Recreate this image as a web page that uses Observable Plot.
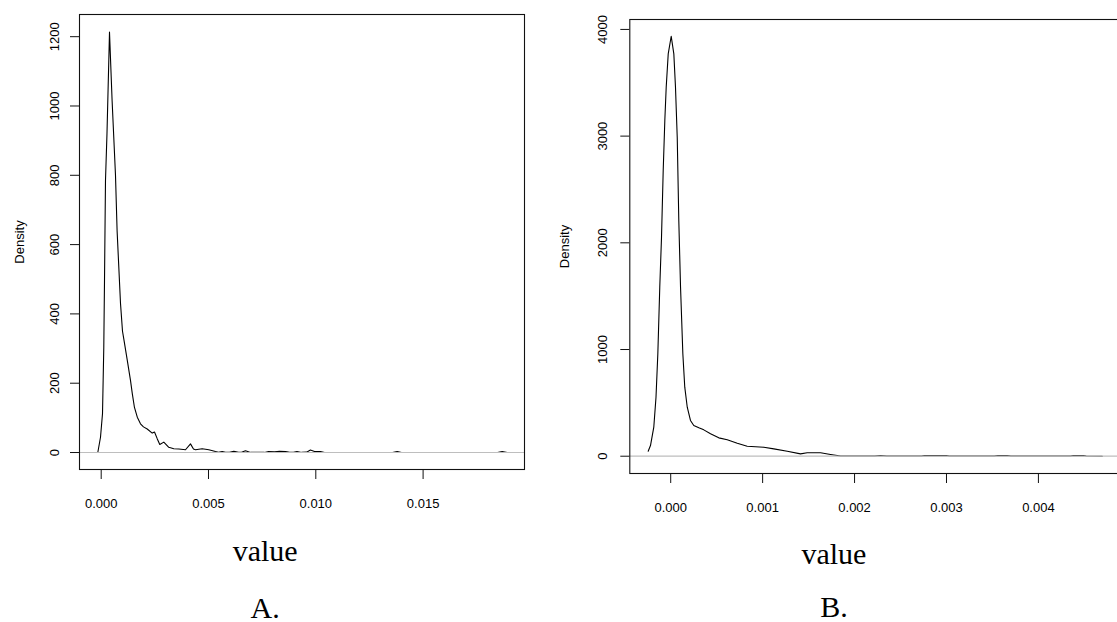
<!DOCTYPE html>
<html>
<head>
<meta charset="utf-8">
<script src="https://cdn.jsdelivr.net/npm/d3@7"></script>
<script src="https://cdn.jsdelivr.net/npm/@observablehq/plot@0.6"></script>
<style>
  html, body { margin: 0; padding: 0; background: #fff; overflow: hidden; }
  #wrap { position: relative; width: 1117px; height: 622px; overflow: hidden; background: #fff; }
  #a, #b { position: absolute; top: 0; }
  #a { left: 0; width: 558px; }
  #b { left: 540px; width: 600px; }
  #a svg, #b svg { max-width: none !important; display: block; }
</style>
</head>
<body>
<div id="wrap"><div id="a"></div><div id="b"></div></div>
<script>
// ---- Panel A data (density estimate) ----
const valueA = [-0.000158, -0.0000326, 0.0000606, 0.000121, 0.000154, 0.0002, 0.00027, 0.000387, 0.000508, 0.000666,
  0.000741, 0.0009, 0.000993, 0.00106, 0.001216, 0.001365, 0.001449, 0.00155, 0.001682, 0.001831,
  0.00197, 0.002144, 0.002377, 0.002484, 0.00261, 0.00273, 0.002917, 0.00315, 0.003383, 0.003616,
  0.003928, 0.004161, 0.0043, 0.004394, 0.004706, 0.005014, 0.005326, 0.005466, 0.005638, 0.005792,
  0.005979, 0.006179, 0.0064, 0.00654, 0.006724, 0.006956, 0.00761, 0.0078, 0.00808, 0.00831,
  0.00859, 0.00878, 0.00896, 0.009124, 0.00933, 0.00957, 0.00975, 0.00994, 0.01022, 0.01041,
  0.0120, 0.013574, 0.013793, 0.013994, 0.0165, 0.018467, 0.018686, 0.018919];
const densityA = [0, 44, 112, 304, 496, 785, 921, 1213, 1016, 800,
  640, 430, 350, 325, 266, 208, 170, 130, 102, 83,
  74, 68, 56, 59, 40, 23, 30, 15, 11, 10,
  8, 25, 10, 8, 11, 8, 3, 1, 3, 0.5,
  0.5, 3.5, 0.5, 0.5, 5, 0.3, 0.3, 3, 2, 3.5,
  3, 0.5, 0.5, 3, 0.3, 1, 7, 3, 2.5, 0.2,
  0.1, 0.2, 3, 0.2, 0.1, 0.2, 3, 0];
const xTicksA = [0, 0.005, 0.010, 0.015];
const yTicksA = [0, 200, 400, 600, 800, 1000, 1200];

// ---- Panel B data (density estimate) ----
const valueB = [-0.000245, -0.00022, -0.000184, -0.00016, -0.00014, -0.000119, -0.0001, -0.0000816, -0.000064, -0.000049,
  -0.000027, 0.0000054, 0.000034, 0.000052, 0.000071, 0.000088, 0.000107, 0.000132, 0.000153, 0.00018,
  0.000215, 0.000251, 0.000306, 0.00036, 0.000433, 0.000523, 0.000615, 0.000724, 0.000832, 0.001013,
  0.001122, 0.001268, 0.001412, 0.001485, 0.00163, 0.001739, 0.001848, 0.00222, 0.002283, 0.00235,
  0.00273, 0.00276, 0.003, 0.00303, 0.00352, 0.00356, 0.00366, 0.0037, 0.00435, 0.00438,
  0.00449, 0.00452, 0.004695];
const densityB = [47, 100, 272, 553, 960, 1584, 2052, 2678, 3146, 3458,
  3771, 3936, 3771, 3458, 2990, 2209, 1584, 960, 647, 459,
  335, 288, 266, 247, 210, 172, 154, 122, 94, 84,
  69, 47, 22, 32, 32, 16, 2, 2, 6, 2,
  2, 6, 6, 2, 2, 6, 6, 2, 2, 6,
  6, 2, 0];
const xTicksB = [0, 0.001, 0.002, 0.003, 0.004];
const yTicksB = [0, 1000, 2000, 3000, 4000];

const yLabel = "Density";
const xLabel = "value";
const captionA = "A.";
const captionB = "B.";

const rowsA = valueA.map((v, i) => ({value: v, density: densityA[i]}));
const rowsB = valueB.map((v, i) => ({value: v, density: densityB[i]}));
const fmt3 = d3.format(".3f");
const sans = "'Liberation Sans', Arial, Helvetica, sans-serif";
const serif = "'Liberation Serif', 'Times New Roman', serif";

function panel(o) {
  return Plot.plot({
    width: o.width, height: 622,
    marginLeft: o.ml, marginRight: o.mr, marginTop: o.mt, marginBottom: o.mb,
    x: {domain: o.xDomain, axis: null},
    y: {domain: o.yDomain, axis: null},
    style: {fontFamily: sans, fontSize: "13px", color: "#000", background: "transparent", overflow: "visible", maxWidth: "none"},
    marks: [
      Plot.line(o.rows, {x: "value", y: "density", stroke: "#000", strokeWidth: 1.1}),
      Plot.ruleY([0], {stroke: "#bebebe", strokeWidth: 1.2}),
      Plot.frame({stroke: "#111", strokeWidth: 1.1}),
      Plot.axisY({ticks: o.yTicks, tickSize: 9, tickFormat: () => "", label: null, stroke: "#111"}),
      Plot.axisX({ticks: o.xTicks, tickSize: 10, tickFormat: () => "", label: null, stroke: "#111"}),
      Plot.text(o.yTicks, {y: d => d, frameAnchor: "left", dx: o.yLabDx, rotate: -90, text: d => String(d),
        textAnchor: "middle", lineAnchor: "middle", fontSize: 13, fill: "#000"}),
      Plot.text(o.xTicks, {x: d => d, frameAnchor: "bottom", dy: 34, text: d => fmt3(d),
        textAnchor: "middle", lineAnchor: "middle", fontSize: 13, fill: "#000"}),
      Plot.text([yLabel], {frameAnchor: "left", dx: o.densDx, rotate: -90, text: d => d,
        textAnchor: "middle", lineAnchor: "middle", fontSize: 13, fill: "#000"}),
      Plot.text([xLabel], {frameAnchor: "bottom", dx: o.capDx, dy: o.valDy, text: d => d,
        textAnchor: "middle", lineAnchor: "middle", fontSize: 30, fontFamily: serif, fill: "#000"}),
      Plot.text([o.caption], {frameAnchor: "bottom", dx: o.capDx, dy: o.capDy, text: d => d,
        textAnchor: "middle", lineAnchor: "middle", fontSize: 30, fontFamily: serif, fill: "#000"})
    ]
  });
}

document.getElementById("a").appendChild(panel({
  width: 558, ml: 79, mr: 34, mt: 14, mb: 153,
  xDomain: [-0.001011, 0.019725], yDomain: [-49, 1264],
  rows: rowsA, xTicks: xTicksA, yTicks: yTicksA,
  yLabDx: -25, densDx: -60, capDx: -36.8, valDy: 81.4, capDy: 138.4, caption: captionA
}));

document.getElementById("b").appendChild(panel({
  width: 600, ml: 89.3, mr: 20, mt: 19, mb: 149,
  xDomain: [-0.000445, 0.004893], yDomain: [-162, 4093],
  rows: rowsB, xTicks: xTicksB, yTicks: yTicksB,
  yLabDx: -26.7, densDx: -65, capDx: -41.2, valDy: 80.7, capDy: 134.1, caption: captionB
}));
</script>
</body>
</html>
